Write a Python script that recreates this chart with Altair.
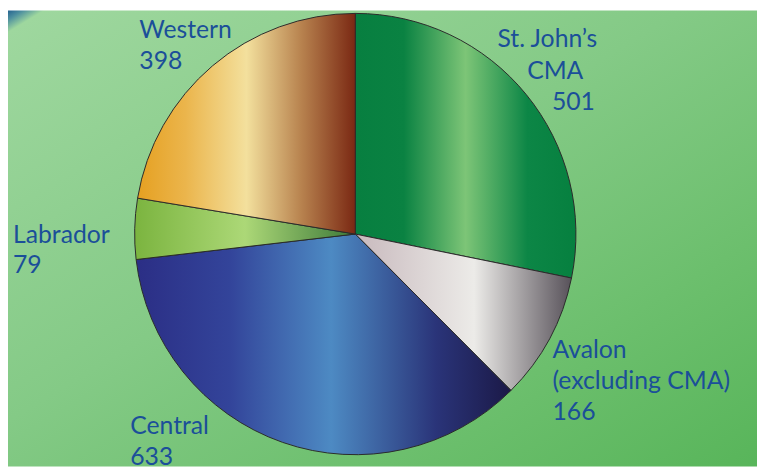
import altair as alt
import pandas as pd

# ---- data -------------------------------------------------------------
regions = ["St. John’s\nCMA", "Avalon\n(excluding CMA)", "Central", "Labrador", "Western"]
keys = ["stjohns", "avalon", "central", "labrador", "western"]
values = [501, 166, 633, 79, 398]

df = pd.DataFrame({
    "key": keys,
    "region": regions,
    "value": values,
    "order": list(range(len(keys))),
})
df["label"] = df["region"] + "\n" + df["value"].astype(str)

# ---- styles -----------------------------------------------------------
W, H = 757, 461
CX, CY, R = 351, 226, 223
TEXT = "#1b4f99"
FONT = "Lato"

def grad(stops, x1=0, y1=0, x2=1, y2=0):
    return alt.Gradient(
        gradient="linear", x1=x1, y1=y1, x2=x2, y2=y2,
        stops=[alt.GradientStop(offset=o, color=c) for o, c in stops],
    )

fills = {
    "stjohns": grad([(0, "#077f40"), (0.22, "#0a8242"), (0.5, "#7dc577"), (0.78, "#0c8646"), (1, "#06803f")]),
    "avalon": grad([(0, "#c8b9bd"), (0.55, "#ecebe8"), (1, "#58525a")]),
    "central": grad([(0, "#2b2e85"), (0.25, "#33449a"), (0.52, "#4d8ac3"), (0.8, "#2a3479"), (1, "#1b1947")]),
    "labrador": grad([(0, "#7bb43f"), (0.5, "#acd877"), (1, "#3c7839")]),
    "western": grad([(0, "#e5a021"), (0.22, "#ebb54c"), (0.5, "#f3e09d"), (0.75, "#b8834f"), (1, "#7a2813")]),
}

# label offsets (dx, dy) from the slice's rim point at its mid angle
label_offsets = {
    "avalon": (3, 20),
    "central": (-154, -8),
    "labrador": (-123, 14),
    "western": (-74, -28),
}

base = (
    alt.Chart(df)
    .transform_joinaggregate(total="sum(value)")
    .transform_window(cum="sum(value)", sort=[alt.SortField("order")], frame=[None, 0])
    .transform_calculate(
        a0="(datum.cum - datum.value) / datum.total * 2 * PI",
        a1="datum.cum / datum.total * 2 * PI",
    )
    .transform_calculate(mid="(datum.a0 + datum.a1) / 2")
)

# background
bg = alt.Chart(pd.DataFrame({"k": [0]})).mark_rect(
    fill=grad([(0, "#24628f"), (0.01, "#4d8f9f"), (0.024, "#9ed79e"), (0.45, "#84ca86"),
               (0.75, "#6cbf6d"), (1, "#58b55a")], x1=0, y1=0, x2=1, y2=1),
    strokeWidth=0,
).encode(x=alt.value(0), x2=alt.value(W), y=alt.value(0), y2=alt.value(H))

layers = [bg]
for k in keys:
    arc = base.transform_filter(alt.datum.key == k).mark_arc(
        fill=fills[k], stroke="#2a2a2a", strokeWidth=1, radius=R,
    ).encode(
        theta=alt.Theta("a0:Q", scale=None),
        theta2=alt.Theta2("a1:Q"),
        x=alt.value(CX), y=alt.value(CY),
    )
    layers.append(arc)

def text_layer(k, field, dx, dy):
    return base.transform_filter(alt.datum.key == k).mark_text(
        align="left", baseline="alphabetic", font=FONT, fontSize=25,
        color=TEXT, lineBreak="\n", lineHeight=31, radius=R, dx=dx, dy=dy,
    ).encode(
        theta=alt.Theta("mid:Q", scale=None),
        text=alt.Text(field),
        x=alt.value(CX), y=alt.value(CY),
    )

for k, (dx, dy) in label_offsets.items():
    layers.append(text_layer(k, "label:N", dx, dy))

# St. John's label lines are staggered
sj = base.transform_filter(alt.datum.key == "stjohns").transform_calculate(
    l1="split(datum.region, '\\n')[0]",
    l2="split(datum.region, '\\n')[1]",
    l3="'' + datum.value",
)
for field, dx, dy in [("l1:N", -29, -48), ("l2:N", 1, -16), ("l3:N", 26, 16)]:
    layers.append(
        sj.mark_text(
            align="left", baseline="alphabetic", font=FONT, fontSize=25,
            color=TEXT, radius=R, dx=dx, dy=dy,
        ).encode(
            theta=alt.Theta("mid:Q", scale=None),
            text=alt.Text(field),
            x=alt.value(CX), y=alt.value(CY),
        )
    )

chart = alt.layer(*layers).properties(
    width=W, height=H, padding=0, autosize=alt.AutoSizeParams(type="none"),
).configure_view(strokeWidth=0)

chart.save("out.html", embed_options={"renderer": "svg", "actions": False})
